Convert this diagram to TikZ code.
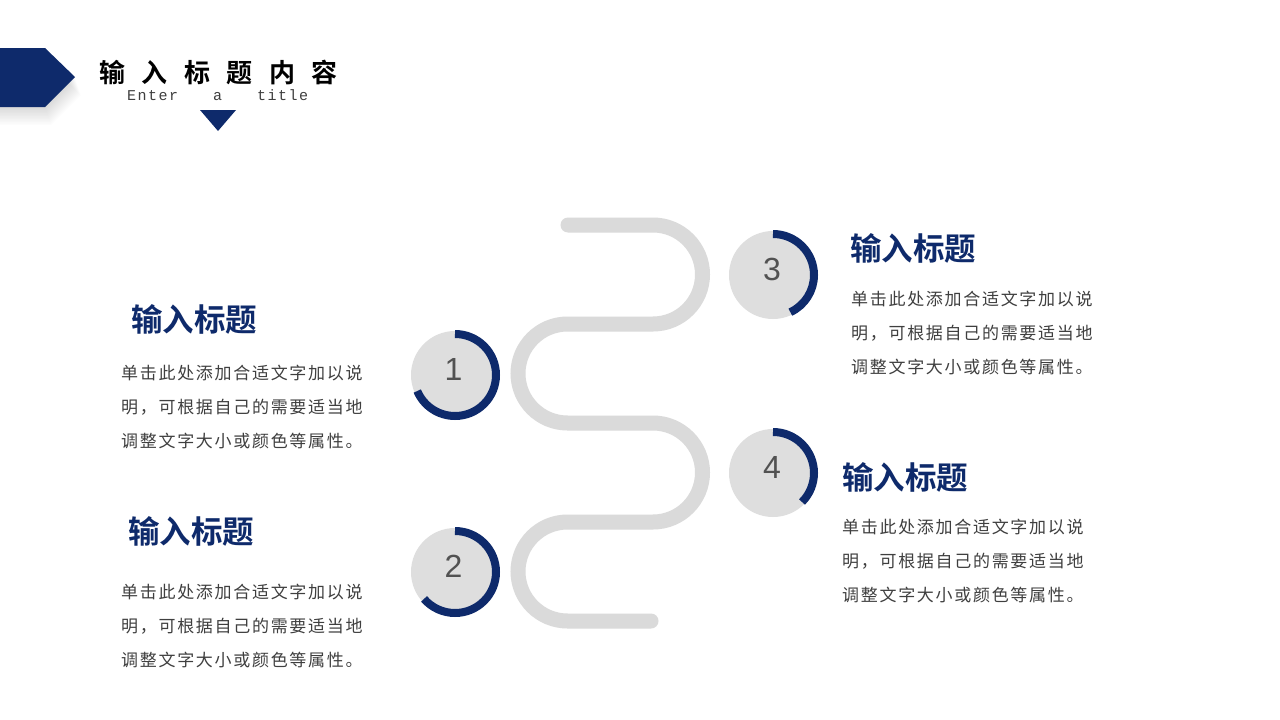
\documentclass[tikz,border=0pt]{standalone}
\usepackage{fontspec}
\newfontfamily\cjk{Noto Sans CJK SC}
\newfontfamily\cjkbold{Noto Sans CJK SC Bold}
\newfontfamily\cjkbody{Noto Sans CJK SC}[LetterSpace=10]
\newfontfamily\monof{Liberation Mono}[LetterSpace=10]
\newfontfamily\numf{Liberation Sans}
\definecolor{navy}{HTML}{0E2A6B}
\definecolor{wavegray}{HTML}{DADADA}
\definecolor{discgray}{HTML}{DEDEDE}
\definecolor{txtgray}{HTML}{3F3F3F}
\tikzset{
  wave/.style={draw=wavegray,line width=15pt,line cap=round},
  disc/.style={circle,fill=discgray,minimum size=88pt,inner sep=0pt},
  ring/.style={draw=navy,line width=8pt},
  numtxt/.style={font=\numf\fontsize{32}{32}\selectfont,text=txtgray!90},
  heading/.style={anchor=base west,inner sep=0pt,font=\cjkbold\fontsize{31.5}{31.5}\selectfont,text=navy},
  body/.style={anchor=base west,inner sep=0pt,font=\cjkbody\fontsize{17}{17}\selectfont,text=txtgray},
}
\newcommand\blurb[3]{%
  \node[body] (#1a) at (#2,#3) {单击此处添加合适文字加以说};
  \node[body] (#1b) at (#2,#3+34) {明，可根据自己的需要适当地};
  \node[body] (#1c) at (#2,#3+68) {调整文字大小或颜色等属性。};
}
\begin{document}
\begin{tikzpicture}[x=1pt,y=-1pt]
\useasboundingbox (0,0) rectangle (1280,720);
\fill[white] (0,0) rectangle (1280,720);

% header shadow
\foreach \i in {1,...,12}
  \fill[black,opacity=0.012] (0,48+\i*1.5) -- (45+\i*0.5,48+\i*1.5) -- (75+\i*0.5,77+\i*1.5) -- (45+\i*0.5,107+\i*1.5) -- (0,107+\i*1.5) -- cycle;
% header pentagon
\fill[navy] (0,48) -- (45,48) -- (75,77) -- (45,107) -- (0,107) -- cycle;
\node[anchor=base west,inner sep=0pt,font=\cjkbold\fontsize{26}{26}\selectfont,text=black] (title) at (99,82)
  {输\hskip16.5pt 入\hskip16.5pt 标\hskip16.5pt 题\hskip16.5pt 内\hskip16.5pt 容};
\node[anchor=base west,inner sep=0pt,font=\monof\fontsize{15}{15}\selectfont,text=txtgray] (en1) at (127,100) {Enter};
\node[anchor=base west,inner sep=0pt,font=\monof\fontsize{15}{15}\selectfont,text=txtgray] (en2) at (213,100) {a};
\node[anchor=base west,inner sep=0pt,font=\monof\fontsize{15}{15}\selectfont,text=txtgray] (en3) at (257,100) {title};
\fill[navy] (200,110) -- (236,110) -- (218,131) -- cycle;

% wave
\coordinate (ws) at (568,225);
\coordinate (we) at (651,621);
\draw[wave] (ws) -- (653,225) arc[start angle=-90,end angle=90,radius=49.5]
  -- (567.5,324) arc[start angle=270,end angle=90,radius=49.5]
  -- (653,423) arc[start angle=-90,end angle=90,radius=49.5]
  -- (567.5,522) arc[start angle=270,end angle=90,radius=49.5]
  -- (we);

% circles
\node[disc] (c1) at (455,375) {};
\node[disc] (c2) at (455,572) {};
\node[disc] (c3) at (773,275) {};
\node[disc] (c4) at (773,473) {};
\draw[ring] (c1) ++(-90:41) arc[start angle=-90,end angle=157,radius=41];
\draw[ring] (c2) ++(-90:41) arc[start angle=-90,end angle=139,radius=41];
\draw[ring] (c3) ++(-90:41) arc[start angle=-90,end angle=65,radius=41];
\draw[ring] (c4) ++(-90:41) arc[start angle=-90,end angle=45,radius=41];
\node[numtxt] (n1) at ([xshift=-1.5pt,yshift=6pt]c1) {1};
\node[numtxt] (n2) at ([xshift=-1.5pt,yshift=6pt]c2) {2};
\node[numtxt] (n3) at ([xshift=-1pt,yshift=6pt]c3) {3};
\node[numtxt] (n4) at ([xshift=-1pt,yshift=6pt]c4) {4};

% headings
\node[heading] (h1) at (131,331) {输入标题};
\node[heading] (h2) at (128,543) {输入标题};
\node[heading] (h3) at (850,260) {输入标题};
\node[heading] (h4) at (842,489) {输入标题};

% body text
\blurb{b1}{121}{379}
\blurb{b2}{121}{598}
\blurb{b3}{851}{305}
\blurb{b4}{842}{533}
\end{tikzpicture}
\end{document}
